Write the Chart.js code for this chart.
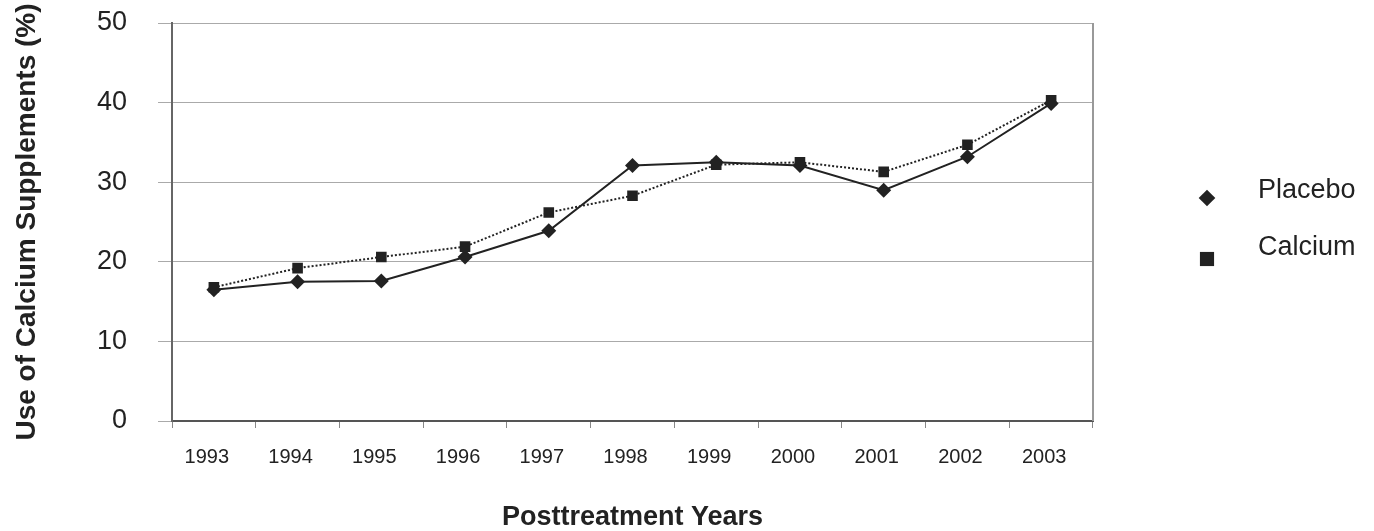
<!DOCTYPE html>
<html><head><meta charset="utf-8">
<script src="https://cdn.jsdelivr.net/npm/chart.js@4"></script>
<style>html,body{margin:0;padding:0;background:#fff}#wrap{width:1374px;height:531px;position:relative}</style>
</head><body><div id="wrap"><canvas id="c" width="1374" height="531"></canvas></div>
<script>
const years = ['1993','1994','1995','1996','1997','1998','1999','2000','2001','2002','2003'];
const placebo = [16.5, 17.5, 17.6, 20.6, 23.9, 32.1, 32.5, 32.1, 29.0, 33.2, 39.9];
const calcium = [16.8, 19.2, 20.6, 21.9, 26.2, 28.3, 32.2, 32.5, 31.3, 34.7, 40.3];
const yTicks = [0, 10, 20, 30, 40, 50];
const seriesNames = ['Placebo', 'Calcium'];
const xTitle = 'Posttreatment Years';
const yTitle = 'Use of Calcium Supplements (%)';

Chart.defaults.font.family = '"Liberation Sans", Arial, Helvetica, sans-serif';
Chart.defaults.color = '#222';

function drawMarker(ctx, style, x, y, r) {
  ctx.beginPath();
  if (style === 'rectRot') {
    ctx.moveTo(x - r, y); ctx.lineTo(x, y - r); ctx.lineTo(x + r, y); ctx.lineTo(x, y + r);
  } else {
    const s = r * Math.SQRT1_2;
    ctx.rect(x - s, y - s, 2 * s, 2 * s);
  }
  ctx.closePath();
  ctx.fill();
}

const extras = {
  id: 'extras',
  afterDraw(chart) {
    const ctx = chart.ctx, a = chart.chartArea;
    ctx.save();
    ctx.strokeStyle = '#999'; ctx.lineWidth = 2;
    ctx.beginPath(); ctx.moveTo(a.right, a.top); ctx.lineTo(a.right, a.bottom); ctx.stroke();
    const styles = ['rectRot', 'rect'];
    const radii = [8.3, 10];
    const rows = [198, 255];
    const markerY = [198, 259];
    ctx.fillStyle = '#222';
    ctx.font = '27px "Liberation Sans", Arial, sans-serif';
    ctx.textBaseline = 'alphabetic';
    ctx.textAlign = 'left';
    seriesNames.forEach((n, i) => {
      drawMarker(ctx, styles[i], a.right + 114, markerY[i], radii[i]);
      ctx.fillText(n, a.right + 165, rows[i]);
    });
    ctx.restore();
  }
};

new Chart(document.getElementById('c'), {
  type: 'line',
  data: {
    labels: years,
    datasets: [
      { label: seriesNames[0], data: placebo, borderColor: '#222', backgroundColor: '#222',
        borderWidth: 2, pointStyle: 'rectRot', pointRadius: 7.5, pointBorderWidth: 0, tension: 0, order: 1 },
      { label: seriesNames[1], data: calcium, borderColor: '#222', backgroundColor: '#222',
        borderWidth: 2, borderDash: [2, 2], pointStyle: 'rect', pointRadius: 7.5, pointBorderWidth: 0, tension: 0, order: 0 }
    ]
  },
  options: {
    responsive: false,
    animation: false,
    layout: { padding: { top: 23, right: 281, bottom: 0, left: 0 } },
    plugins: { legend: { display: false }, tooltip: { enabled: false } },
    scales: {
      x: {
        type: 'category',
        offset: true,
        grid: { offset: true, drawOnChartArea: false, drawTicks: true, tickLength: 7, color: '#888', lineWidth: 1 },
        border: { color: '#555', width: 2 },
        ticks: { font: { size: 20 }, color: '#222', padding: 17, labelOffset: -7, maxRotation: 0, autoSkip: false },
        title: { display: true, text: xTitle, font: { size: 27, weight: 'bold', lineHeight: 1.0 }, color: '#222', padding: { top: 0, bottom: 0 } },
        afterFit(s) { s.height = 110; s.paddingLeft = 0; s.paddingRight = 0; }
      },
      y: {
        min: 0, max: 50,
        afterBuildTicks(s) { s.ticks = yTicks.map(v => ({ value: v })); },
        grid: { color: '#aaa', lineWidth: 1, drawTicks: true, tickLength: 14 },
        border: { color: '#666', width: 2 },
        ticks: { font: { size: 27 }, color: '#222', padding: 31 },
        title: { display: true, text: yTitle, font: { size: 28, weight: 'bold' }, color: '#222', padding: { top: 10, bottom: 0 } },
        afterFit(s) { s.width = 172; s.paddingTop = 0; s.paddingBottom = 0; }
      }
    }
  },
  plugins: [extras]
});
</script></body></html>
